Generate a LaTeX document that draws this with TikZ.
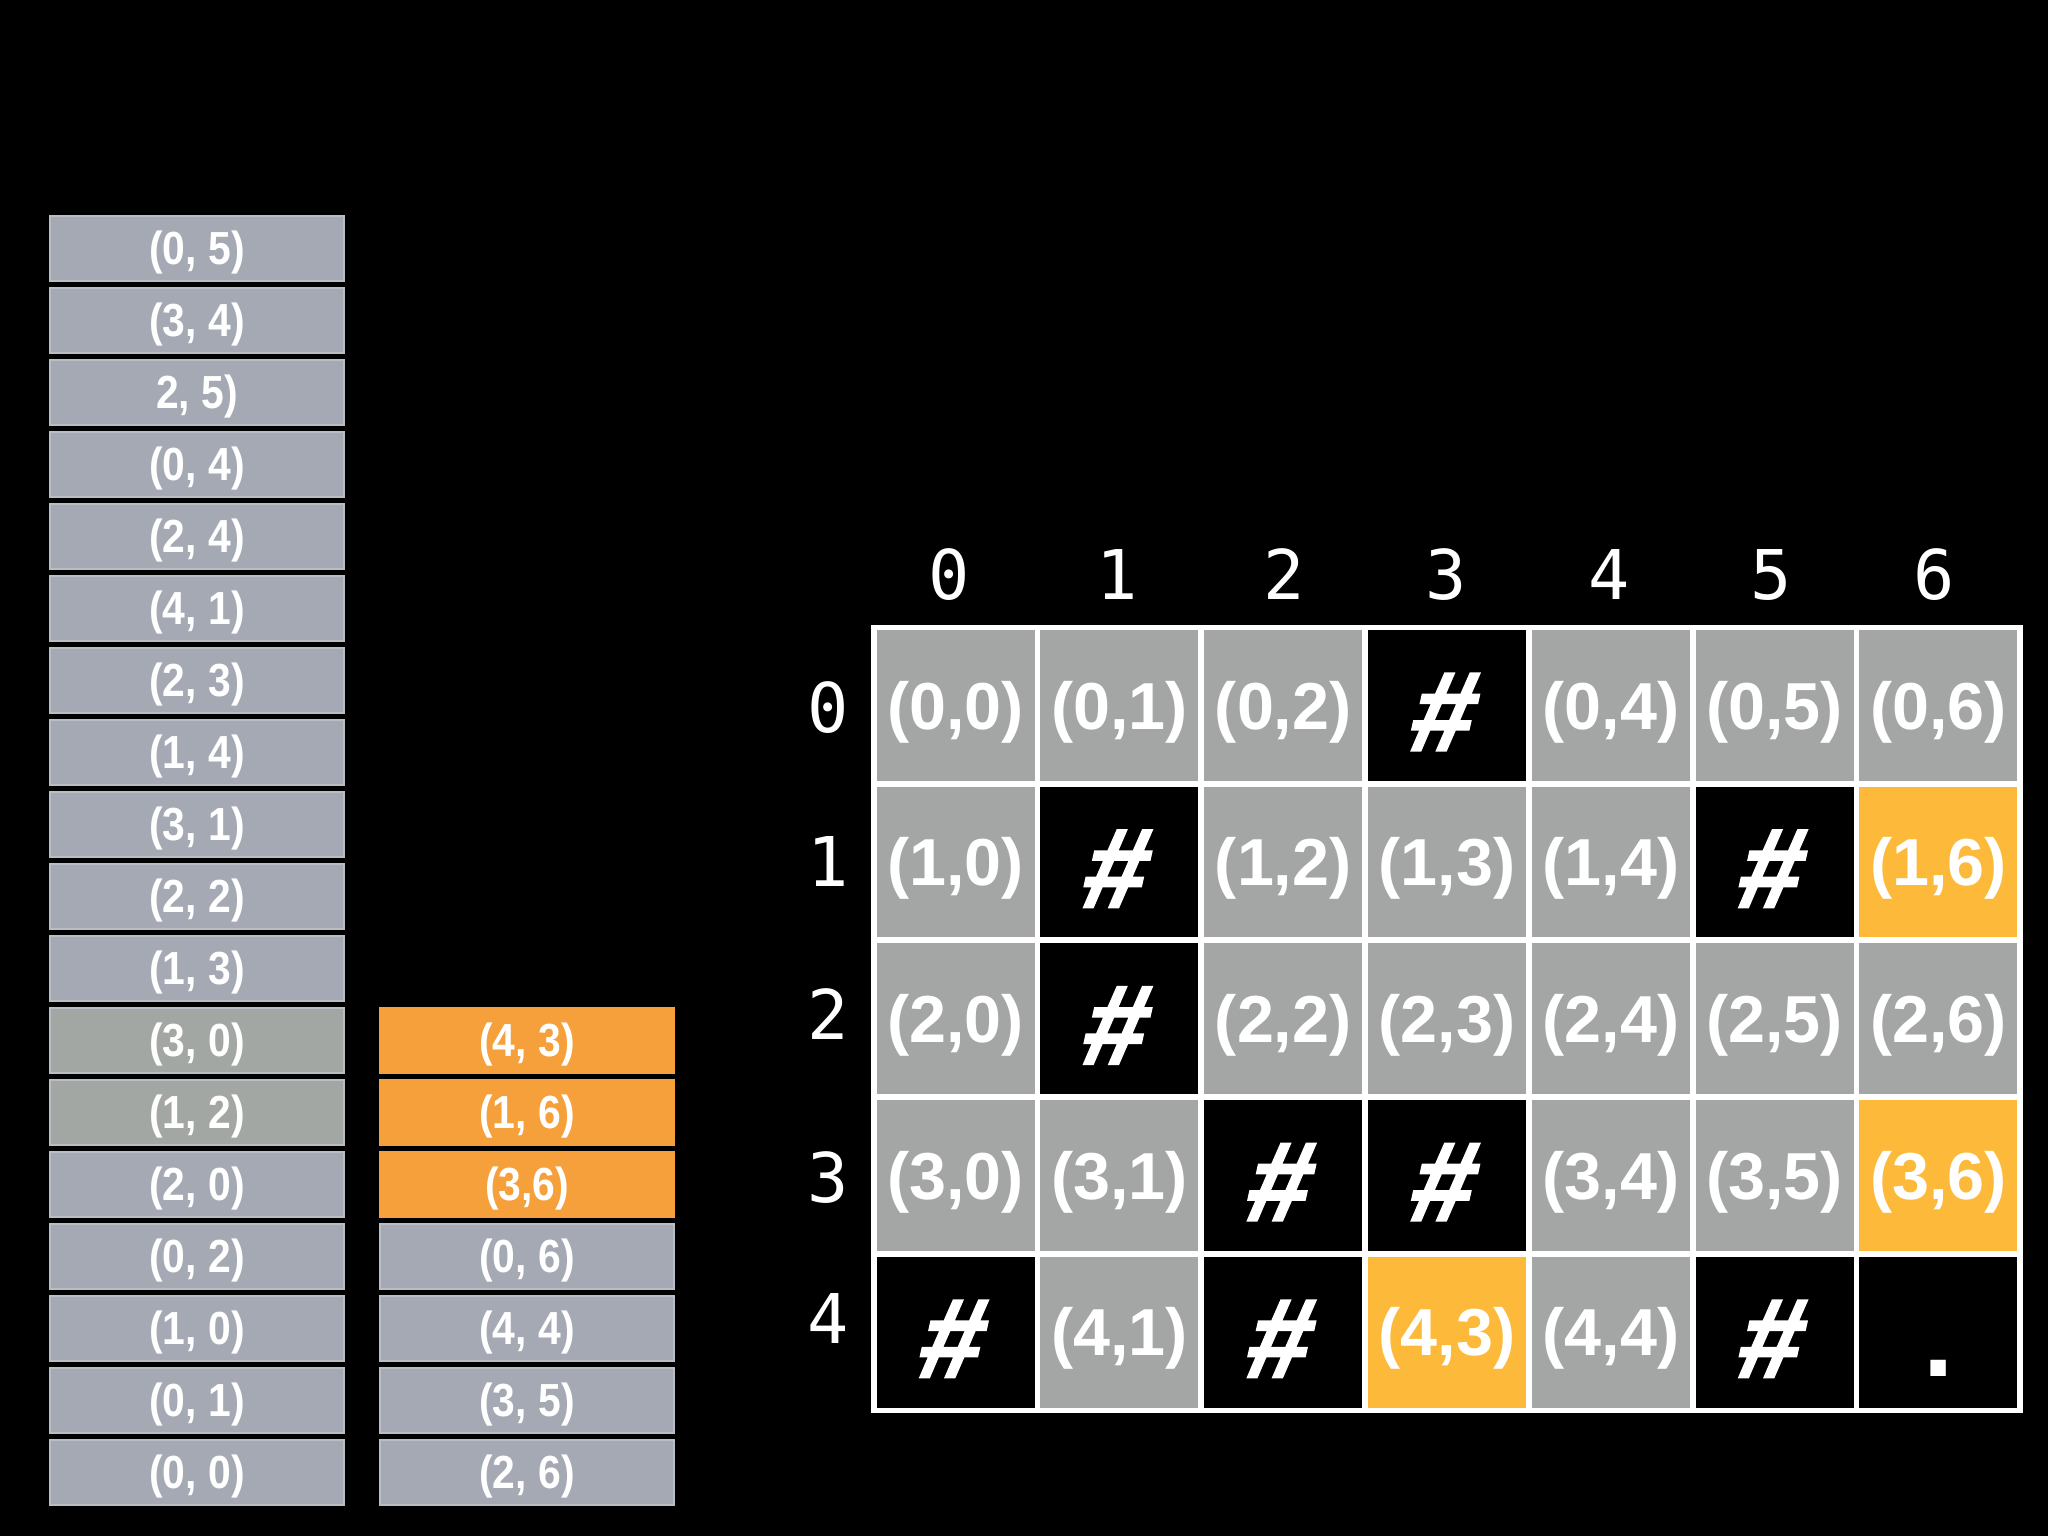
\documentclass[tikz,border=0pt]{standalone}
\usepackage{fontspec}
\setmainfont{Liberation Sans}
\newfontfamily\monof{DejaVu Sans Mono}
\newfontfamily\stackfont[FakeStretch=0.88]{Liberation Sans}
\newfontfamily\hashfont[FakeSlant=0.22,FakeBold=2.2]{Liberation Sans}
\definecolor{stackblue}{HTML}{A4A9B3}
\definecolor{stackgray}{HTML}{A3A7A4}
\definecolor{stackorange}{HTML}{F5A03B}
\definecolor{stackedge}{HTML}{B9BDC4}
\definecolor{cellgray}{HTML}{A3A6A5}
\definecolor{cellyellow}{HTML}{FDBA3A}
\tikzset{
  stackbox/.style={fill=stackblue, draw=stackedge, line width=0.012cm, minimum width=2.94cm, minimum height=0.65cm,
    inner sep=0pt, text=white, font=\stackfont\bfseries\fontsize{13.2}{14}\selectfont, text height=9.3pt, text depth=0pt},
  sgray/.style={stackbox, fill=stackgray},
  sorange/.style={stackbox, fill=stackorange, draw=stackorange},
  cellbase/.style={minimum width=1.578cm, minimum height=1.507cm, inner sep=0pt, text=white},
  gc/.style={cellbase, fill=cellgray, font=\bfseries\fontsize{18.9}{20}\selectfont, text height=13.5pt, text depth=0pt,
    node contents={(\r,\c)}},
  yc/.style={gc, fill=cellyellow},
  bc/.style={cellbase, fill=black, font=\hashfont\bfseries\fontsize{32}{34}\selectfont, text height=25.6pt, text depth=0pt,
    node contents={\kern-2.8pt\#\kern2.8pt}},
  dc/.style={cellbase, fill=black, font=\bfseries\fontsize{31}{32}\selectfont, text height=25pt, text depth=0pt,
    node contents={.}},
  hdr/.style={text=white, inner sep=0pt, font=\monof\fontsize{19.5}{20}\selectfont, text height=14.2pt, text depth=0pt},
}
\begin{document}
\begin{tikzpicture}[x=0.01cm, y=-0.01cm]
\fill[black] (0,0) rectangle (2048,1536);
\useasboundingbox (0,0) rectangle (2048,1536);

% left stack
\node[stackbox] (l0) at (197,248.5) {(0, 5)};
\node[stackbox] (l1) at (197,320.5) {(3, 4)};
\node[stackbox] (l2) at (197,392.5) {2, 5)};
\node[stackbox] (l3) at (197,464.5) {(0, 4)};
\node[stackbox] (l4) at (197,536.5) {(2, 4)};
\node[stackbox] (l5) at (197,608.5) {(4, 1)};
\node[stackbox] (l6) at (197,680.5) {(2, 3)};
\node[stackbox] (l7) at (197,752.5) {(1, 4)};
\node[stackbox] (l8) at (197,824.5) {(3, 1)};
\node[stackbox] (l9) at (197,896.5) {(2, 2)};
\node[stackbox] (l10) at (197,968.5) {(1, 3)};
\node[sgray] (l11) at (197,1040.5) {(3, 0)};
\node[sgray] (l12) at (197,1112.5) {(1, 2)};
\node[stackbox] (l13) at (197,1184.5) {(2, 0)};
\node[stackbox] (l14) at (197,1256.5) {(0, 2)};
\node[stackbox] (l15) at (197,1328.5) {(1, 0)};
\node[stackbox] (l16) at (197,1400.5) {(0, 1)};
\node[stackbox] (l17) at (197,1472.5) {(0, 0)};

% right stack
\node[sorange] (r11) at (527,1040.5) {(4, 3)};
\node[sorange] (r12) at (527,1112.5) {(1, 6)};
\node[sorange] (r13) at (527,1184.5) {(3,6)};
\node[stackbox] (r14) at (527,1256.5) {(0, 6)};
\node[stackbox] (r15) at (527,1328.5) {(4, 4)};
\node[stackbox] (r16) at (527,1400.5) {(3, 5)};
\node[stackbox] (r17) at (527,1472.5) {(2, 6)};

% grid background (white lines)
\fill[white] (871,625) rectangle (2023,1413);
\foreach \r/\c/\s in {0/0/gc,0/1/gc,0/2/gc,0/3/bc,0/4/gc,0/5/gc,0/6/gc,
                      1/0/gc,1/1/bc,1/2/gc,1/3/gc,1/4/gc,1/5/bc,1/6/yc,
                      2/0/gc,2/1/bc,2/2/gc,2/3/gc,2/4/gc,2/5/gc,2/6/gc,
                      3/0/gc,3/1/gc,3/2/bc,3/3/bc,3/4/gc,3/5/gc,3/6/yc,
                      4/0/bc,4/1/gc,4/2/bc,4/3/yc,4/4/gc,4/5/bc,4/6/dc}
  \node (c\r\c) at ({955.6+163.8*\c},{705.35+156.7*\r}) [\s];

% column headers
\node[hdr] (h0) at (949,575) {0};
\node[hdr] (h1) at (1117,575) {1};
\node[hdr] (h2) at (1284,575) {2};
\node[hdr] (h3) at (1446,575) {3};
\node[hdr] (h4) at (1609,575) {4};
\node[hdr] (h5) at (1771,575) {5};
\node[hdr] (h6) at (1934,575) {6};
% row headers
\node[hdr] (v0) at (828,708) {0};
\node[hdr] (v1) at (828,862) {1};
\node[hdr] (v2) at (828,1015) {2};
\node[hdr] (v3) at (828,1178) {3};
\node[hdr] (v4) at (828,1319) {4};
\end{tikzpicture}
\end{document}
